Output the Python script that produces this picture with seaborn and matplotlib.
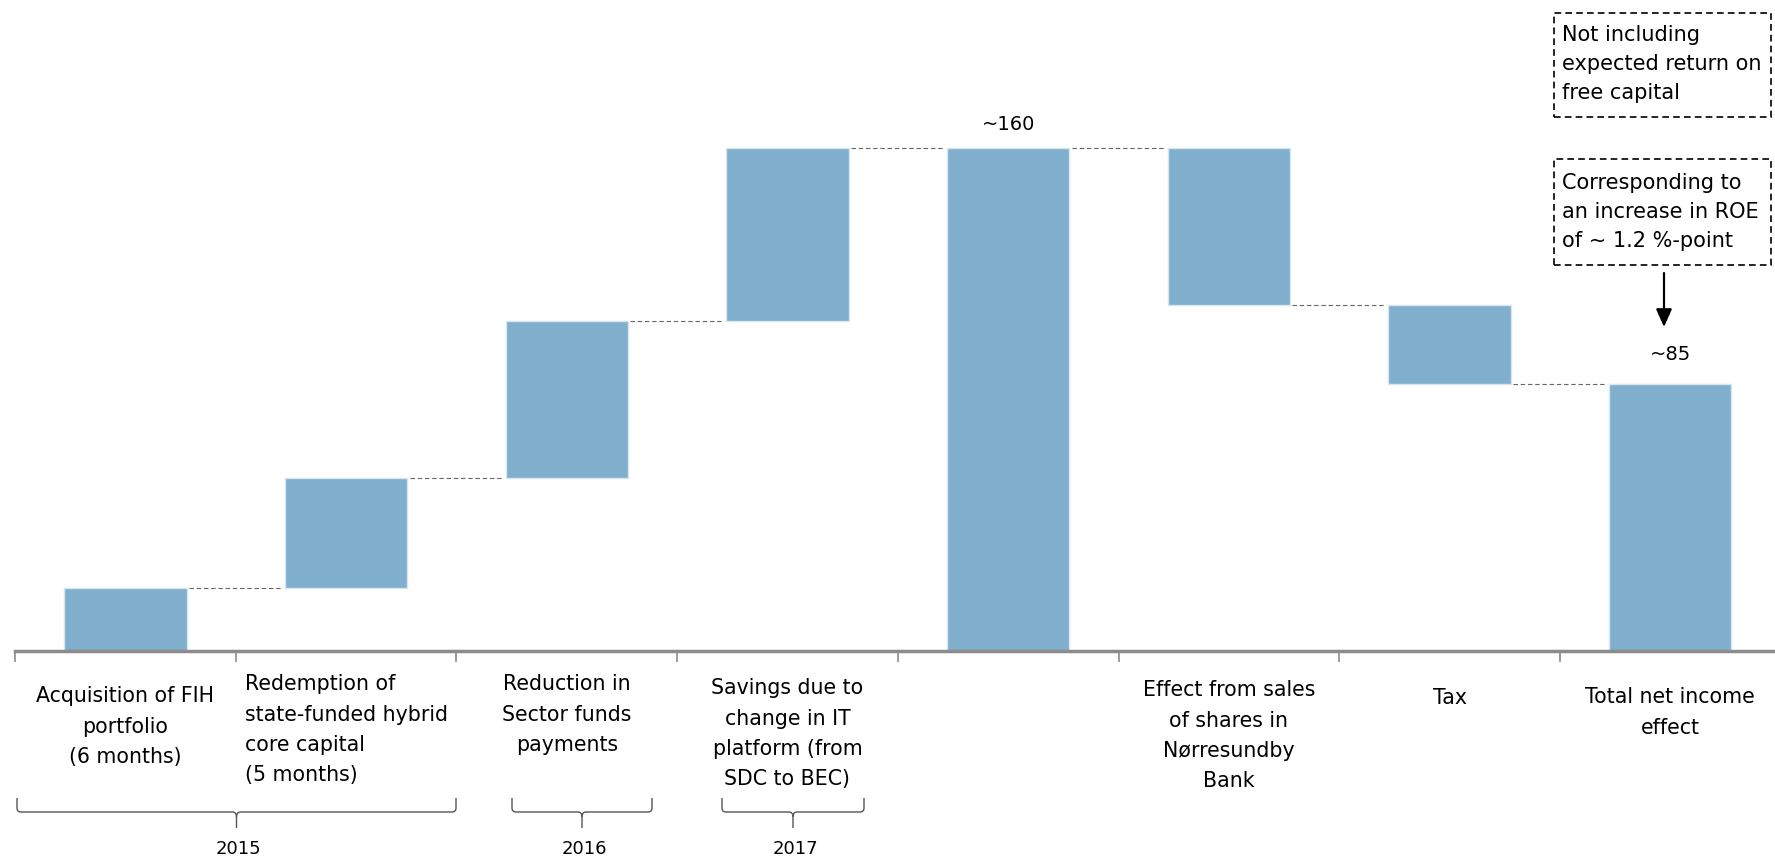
import numpy as np
import pandas as pd
import matplotlib
matplotlib.use("Agg")
import matplotlib.pyplot as plt
from matplotlib.patches import Rectangle, PathPatch
from matplotlib.path import Path
import matplotlib.transforms as mtransforms
import seaborn as sns

# ---- data -------------------------------------------------------------
categories = [
    "Acquisition of FIH\nportfolio\n(6 months)",
    "Redemption of\nstate-funded hybrid\ncore capital\n(5 months)",
    "Reduction in\nSector funds\npayments",
    "Savings due to\nchange in IT\nplatform (from\nSDC to BEC)",
    "",
    "Effect from sales\nof shares in\nNørresundby\nBank",
    "Tax",
    "Total net income\neffect",
]
changes = [20, 35, 50, 55, 160, -50, -25, 85]
is_total = [False, False, False, False, True, False, False, True]
value_labels = [None, None, None, None, "~160", None, None, "~85"]
years = ["2015", "2016", "2017"]
notes = [
    "Not including\nexpected return on\nfree capital",
    "Corresponding to\nan increase in ROE\nof ~ 1.2 %-point",
]

# ---- waterfall geometry ----------------------------------------------
bottoms, heights, levels = [], [], []
running = 0
for ch, tot in zip(changes, is_total):
    if tot:
        bottoms.append(0)
        heights.append(ch)
        running = ch
    elif ch >= 0:
        bottoms.append(running)
        heights.append(ch)
        running += ch
    else:
        bottoms.append(running + ch)
        heights.append(-ch)
        running += ch
    levels.append(running)

df = pd.DataFrame({"step": categories, "height": heights})

# ---- style -----------------------------------------------------------
sns.set_theme(style="white")
plt.rcParams["font.family"] = ["DejaVu Sans"]

W, H = 1775, 859
fig = plt.figure(figsize=(W / 100, H / 100), dpi=100)
fig.patch.set_facecolor("white")

slot = 220.7
ax = fig.add_axes([15 / W, (H - 651) / H, (W - 15) / W, 534.5 / H])

bar_color = "#7FAFCD"
sns.barplot(data=df, x="step", y="height", color=bar_color, saturation=1,
            width=0.555, edgecolor="#d6e6f0", linewidth=1.0, ax=ax)
for patch, b in zip(ax.patches, bottoms):
    patch.set_y(b)

ax.set_xlim(-0.5, 7.5 - 5.6 / slot)
ax.set_ylim(0, 170)
ax.set_xlabel("")
ax.set_ylabel("")
ax.set_yticks([])
ax.set_xticks(np.arange(-0.5, 7.0, 1.0))
ax.set_xticklabels([])
ax.tick_params(axis="x", length=8, width=1.2, color="#8c8c8c", direction="out", bottom=True)
for side in ["top", "right", "left"]:
    ax.spines[side].set_visible(False)
ax.spines["bottom"].set_color("#8c8c8c")
ax.spines["bottom"].set_linewidth(2.5)

# connectors between consecutive bars
half = 0.555 / 2
for i in range(len(changes) - 1):
    ax.plot([i + half + 0.01, i + 1 - half - 0.01], [levels[i], levels[i]],
            color="#666666", lw=0.8, ls=(0, (4, 2.5)), zorder=3)

# value labels above total bars
label_offsets = {4: 23, 7: 29}
for i, txt in enumerate(value_labels):
    if txt:
        ax.annotate(txt, (i, bottoms[i] + heights[i]), xytext=(0, label_offsets[i] * 0.72),
                    textcoords="offset points", ha="center", va="center",
                    fontsize=14, color="black")

# category labels under the axis
blend = mtransforms.blended_transform_factory(ax.transData, fig.transFigure)
first_line = [695, 683, 683, 687, None, 689, 697, 696]
for i, (txt, y0) in enumerate(zip(categories, first_line)):
    if not txt:
        continue
    ax.text(i, (H - (y0 - 8.7)) / H, txt, transform=blend, ha="center", va="top",
            multialignment="left" if i == 1 else "center",
            fontsize=14.8, linespacing=1.64, color="black", clip_on=False)

# year braces
def px_to_x(px):
    return (px - 15) / slot - 0.5

def brace(x0px, x1px, label):
    top, mid, tip = 798, 812, 828
    xc = (x0px + x1px) / 2
    r = 4
    pts = [
        (x0px, top), (x0px, mid - r), (x0px, mid), (x0px + r, mid),
        (xc - r, mid), (xc, mid), (xc, mid + r + 1),
        (xc, tip),
    ]
    pts2 = [(x1px, top), (x1px, mid - r), (x1px, mid), (x1px - r, mid),
            (xc + r, mid), (xc, mid), (xc, mid + r + 1)]
    codes = [Path.MOVETO, Path.LINETO, Path.CURVE3, Path.CURVE3,
             Path.LINETO, Path.CURVE3, Path.CURVE3, Path.LINETO]
    codes2 = codes[:-1]
    for p, c in ((pts, codes), (pts2, codes2)):
        verts = [(px_to_x(x), (H - y) / H) for x, y in p]
        fig.add_artist(PathPatch(Path(verts, c), transform=blend, fill=False,
                                 ec="#555555", lw=1.0))
    ax.text(px_to_x(xc + 2), (H - 849) / H, label, transform=blend, ha="center",
            va="center", fontsize=13, color="black", clip_on=False)

brace(17, 456, years[0])
brace(512, 652, years[1])
brace(722, 864, years[2])

# dashed note boxes
boxes = [(1554, 13, 1771, 117), (1554, 159, 1771, 265)]
first_lines = [34, 182]
for (x0, y0, x1, y1), txt, fl in zip(boxes, notes, first_lines):
    fig.add_artist(Rectangle((x0 / W, (H - y1) / H), (x1 - x0) / W, (y1 - y0) / H,
                             transform=fig.transFigure, fill=False, ec="black",
                             lw=1.2, ls=(0, (4, 2.5))))
    fig.text(1562 / W, (H - (fl - 8.8)) / H, txt, ha="left", va="top",
             fontsize=15, linespacing=1.57, color="black")

# arrow from the ROE note to the total bar
ax.annotate("", xy=(1664 / W, (H - 327) / H), xytext=(1664 / W, (H - 273) / H),
            xycoords="figure fraction", textcoords="figure fraction",
            arrowprops=dict(arrowstyle="-|>,head_length=0.9,head_width=0.4",
                            color="black", lw=1.6, shrinkA=0, shrinkB=0))

fig.savefig("out.png", dpi=100, facecolor="white")
